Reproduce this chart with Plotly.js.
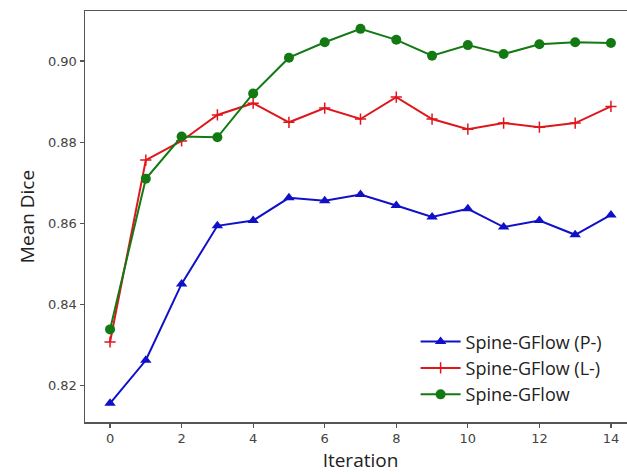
<!DOCTYPE html>
<html>
<head>
<meta charset="utf-8">
<script src="https://cdn.plot.ly/plotly-3.0.1.min.js"></script>
<style>
html, body { margin: 0; padding: 0; overflow: hidden; background: #fff; }
#chart { width: 640px; height: 474px; }
</style>
</head>
<body>
<div id="chart"></div>
<script>
const iterations = [0,1,2,3,4,5,6,7,8,9,10,11,12,13,14];
const diceP = [0.8157,0.8263,0.8451,0.8594,0.8607,0.8663,0.8656,0.8671,0.8644,0.8616,0.8636,0.8591,0.8607,0.8572,0.8621];
const diceL = [0.8308,0.8756,0.8803,0.8867,0.8896,0.8849,0.8884,0.8857,0.8911,0.8857,0.8832,0.8847,0.8837,0.8847,0.8888];
const diceFull = [0.8339,0.8710,0.8814,0.8812,0.8920,0.9008,0.9046,0.9079,0.9052,0.9013,0.9039,0.9017,0.9041,0.9046,0.9044];
const seriesNames = ["Spine-GFlow (P-)", "Spine-GFlow (L-)", "Spine-GFlow"];
const xTicks = [0,2,4,6,8,10,12,14];
const yTicks = [0.82,0.84,0.86,0.88,0.90];
const yTickText = ["0.82","0.84","0.86","0.88","0.90"];

const traces = [
  {x: iterations, y: diceP, name: seriesNames[0], mode: "lines+markers",
   line: {color: "#1010c8", width: 2},
   marker: {symbol: "triangle-up", size: 10, color: "#1010c8"}},
  {x: iterations, y: diceL, name: seriesNames[1], mode: "lines+markers",
   line: {color: "#e0161c", width: 2},
   marker: {symbol: "cross-thin", size: 8, color: "#e0161c", line: {color: "#e0161c", width: 1.5}}},
  {x: iterations, y: diceFull, name: seriesNames[2], mode: "lines+markers",
   line: {color: "#137a13", width: 2},
   marker: {symbol: "circle", size: 10, color: "#137a13"}}
];

const axisCommon = {
  showgrid: false, zeroline: false,
  showline: true, mirror: true, linecolor: "#555", linewidth: 1.5,
  ticks: "outside", ticklen: 4, tickwidth: 1.2, tickcolor: "#555",
  tickfont: {family: "DejaVu Sans, sans-serif", size: 13, color: "#444"}
};

const layout = {
  width: 640, height: 474,
  margin: {l: 85, r: 4, t: 11, b: 52},
  paper_bgcolor: "#fff", plot_bgcolor: "#fff",
  showlegend: true,
  legend: {x: 0.6, y: 0.24, xanchor: "left", yanchor: "top",
    bgcolor: "rgba(255,255,255,0)", borderwidth: 0,
    font: {family: "Open Sans, sans-serif", size: 18, color: "#222"},
    tracegroupgap: 0, itemwidth: 40},
  xaxis: Object.assign({}, axisCommon, {
    range: [-0.7, 14.7], tickvals: xTicks,
    title: {text: "Iteration", font: {family: "Open Sans, sans-serif", size: 19, color: "#222"}, standoff: 8}
  }),
  yaxis: Object.assign({}, axisCommon, {
    range: [0.8111, 0.9123], tickvals: yTicks, ticktext: yTickText,
    title: {text: "Mean Dice", font: {family: "Open Sans, sans-serif", size: 19, color: "#222"}, standoff: 8}
  })
};

Plotly.newPlot("chart", traces, layout, {displayModeBar: false, staticPlot: true});
</script>
</body>
</html>
